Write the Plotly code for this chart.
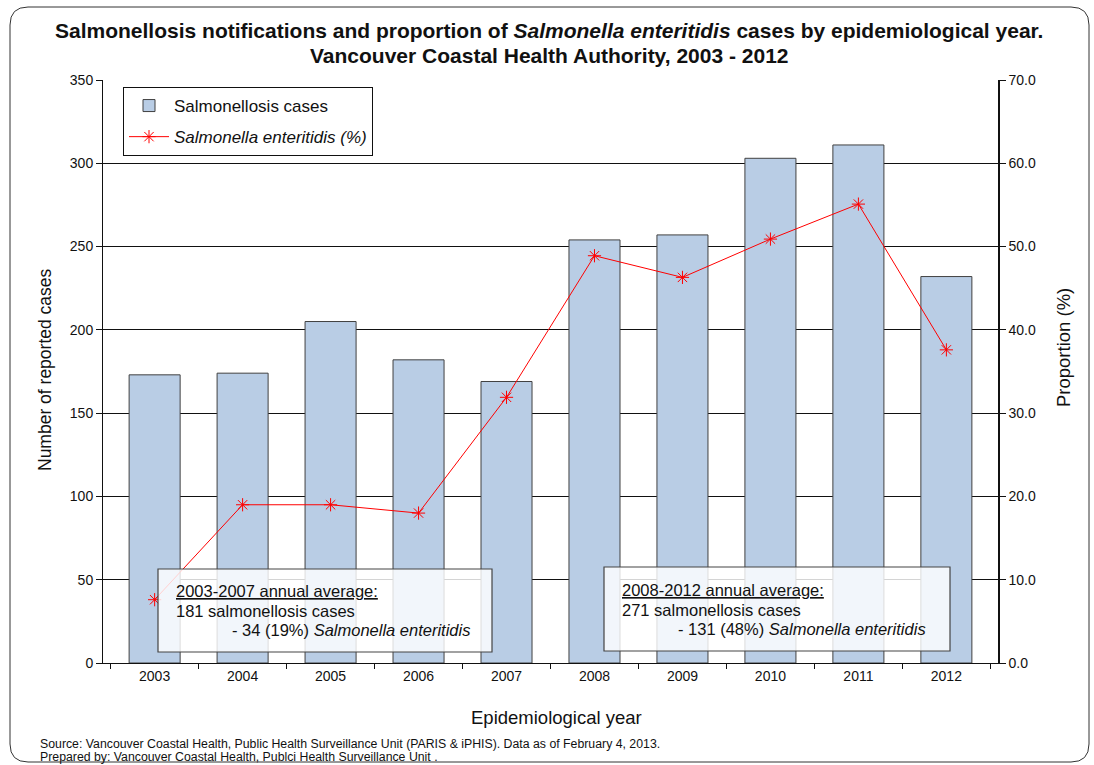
import plotly.graph_objects as go

years = ["2003", "2004", "2005", "2006", "2007", "2008", "2009", "2010", "2011", "2012"]
cases = [173, 174, 205, 182, 169, 254, 257, 303, 311, 232]
enteritidis_pct = [7.6, 19.0, 19.0, 18.0, 31.9, 48.9, 46.3, 50.9, 55.1, 37.6]

W, H = 1094, 765
L, R, T, B = 103, 998, 80, 663


def px(x):
    return (x - L) / (R - L)


def py(y):
    return (B - y) / (B - T)


FONT = "Liberation Sans, Arial, sans-serif"

fig = go.Figure()
fig.add_trace(go.Bar(
    x=years, y=cases, name="Salmonellosis cases",
    marker=dict(color="#B9CDE5", line=dict(color="#404040", width=1)),
    width=0.58, legendgroup="a",
))
fig.add_trace(go.Scatter(
    x=years, y=enteritidis_pct, yaxis="y2", mode="lines+markers",
    name="<i>Salmonella enteritidis (%)</i>",
    line=dict(color="#FF0000", width=1),
    marker=dict(symbol="asterisk-open", size=11, color="#FF0000",
                line=dict(color="#FF0000", width=1)),
    legendgroup="b",
))

fig.update_layout(
    width=W, height=H,
    margin=dict(l=L, r=W - R, t=T, b=H - B, autoexpand=False),
    paper_bgcolor="white", plot_bgcolor="white",
    font=dict(family=FONT, color="#111", size=14),
    showlegend=True,
    legend=dict(x=px(123), y=py(87), xanchor="left", yanchor="top",
                bgcolor="white", bordercolor="#111", borderwidth=1,
                font=dict(size=17, family=FONT, color="#111"),
                tracegroupgap=6, traceorder="grouped",
                itemwidth=40),
    bargap=0.42,
    xaxis=dict(type="category", showline=True, linecolor="#111", linewidth=1,
               ticks="outside", tickson="boundaries", ticklen=5, tickcolor="#111",
               showgrid=False, tickfont=dict(size=14), automargin=False),
    yaxis=dict(range=[0, 350], dtick=50, showline=True, linecolor="#111", linewidth=1,
               ticks="outside", ticklen=6, tickcolor="#111", showgrid=True,
               gridcolor="#111", gridwidth=1, zeroline=False,
               tickfont=dict(size=14), automargin=False),
    yaxis2=dict(range=[0, 70], dtick=10, overlaying="y", side="right",
                showline=True, linecolor="#111", linewidth=1.5, ticks="outside",
                ticklen=6, tickcolor="#111", showgrid=False, zeroline=False,
                tickformat=".1f", tickfont=dict(size=14), automargin=False),
)

shapes = []
# outer rounded border
x0, y0, x1, y1, r = 10, 7, 1089, 762, 18
rx = r / (R - L)
ry = r / (B - T)
X0, X1, Y0, Y1 = px(x0), px(x1), py(y1), py(y0)
path = (f"M {X0+rx} {Y1} L {X1-rx} {Y1} Q {X1} {Y1} {X1} {Y1-ry} "
        f"L {X1} {Y0+ry} Q {X1} {Y0} {X1-rx} {Y0} "
        f"L {X0+rx} {Y0} Q {X0} {Y0} {X0} {Y0+ry} "
        f"L {X0} {Y1-ry} Q {X0} {Y1} {X0+rx} {Y1} Z")
shapes.append(dict(type="path", xref="paper", yref="paper", path=path,
                   line=dict(color="#333", width=1), fillcolor="rgba(0,0,0,0)",
                   layer="below"))
# annotation boxes
for bx0, by0, bx1, by1 in [(158, 569, 492, 652), (604, 567, 950, 651)]:
    shapes.append(dict(type="rect", xref="paper", yref="paper",
                       x0=px(bx0), x1=px(bx1), y0=py(by1), y1=py(by0),
                       line=dict(color="#444", width=1.2),
                       fillcolor="rgba(255,255,255,0.82)", layer="above"))
fig.update_layout(shapes=shapes)

ann = []
for t, yy in [("<b>Salmonellosis notifications and proportion of <i>Salmonella enteritidis</i> "
               "cases by epidemiological year.</b>", 30),
              ("<b>Vancouver Coastal Health Authority, 2003 - 2012</b>", 55)]:
    ann.append(dict(xref="paper", yref="paper", x=px(549), y=py(yy), xanchor="center",
                    yanchor="middle", showarrow=False, align="center", text=t,
                    font=dict(size=21, family=FONT, color="#111")))
ann.append(dict(xref="paper", yref="paper", x=px(45), y=py(370), xanchor="center",
                yanchor="middle", showarrow=False, textangle=-90,
                text="Number of reported cases", font=dict(size=17.5, family=FONT, color="#111")))
ann.append(dict(xref="paper", yref="paper", x=px(1063), y=py(348), xanchor="center",
                yanchor="middle", showarrow=False, textangle=-90,
                text="Proportion (%)", font=dict(size=18.5, family=FONT, color="#111")))
ann.append(dict(xref="paper", yref="paper", x=px(556), y=py(717), xanchor="center",
                yanchor="middle", showarrow=False,
                text="Epidemiological year", font=dict(size=18.5, family=FONT, color="#111")))
ann.append(dict(xref="paper", yref="paper", x=px(38), y=py(744), xanchor="left",
                yanchor="middle", showarrow=False,
                text="Source: Vancouver Coastal Health, Public Health Surveillance Unit (PARIS & iPHIS). Data as of February 4, 2013.",
                font=dict(size=12.3, family=FONT, color="#111")))
ann.append(dict(xref="paper", yref="paper", x=px(38), y=py(757), xanchor="left",
                yanchor="middle", showarrow=False,
                text="Prepared by: Vancouver Coastal Health, Publci Health Surveillance Unit .",
                font=dict(size=12.3, family=FONT, color="#111")))

box_texts = [
    (174, 230, 591, "2003-2007 annual average:", "181 salmonellosis cases", "- 34 (19%) <i>Salmonella enteritidis</i>"),
    (620, 676, 590, "2008-2012 annual average:", "271 salmonellosis cases", "- 131 (48%) <i>Salmonella enteritidis</i>"),
]
for tx, tx3, ty, l1, l2, l3 in box_texts:
    for i, (t, xx) in enumerate([("<u>" + l1 + "</u>", tx), (l2, tx), (l3, tx3)]):
        ann.append(dict(xref="paper", yref="paper", x=px(xx), y=py(ty + 19.5 * i),
                        xanchor="left", yanchor="middle", showarrow=False, text=t,
                        font=dict(size=16.5, family=FONT, color="#111")))
fig.update_layout(annotations=ann)

fig.write_html("out.html", config={"displayModeBar": False},
               post_script="document.body.style.margin='0';document.body.style.overflow='hidden';")
